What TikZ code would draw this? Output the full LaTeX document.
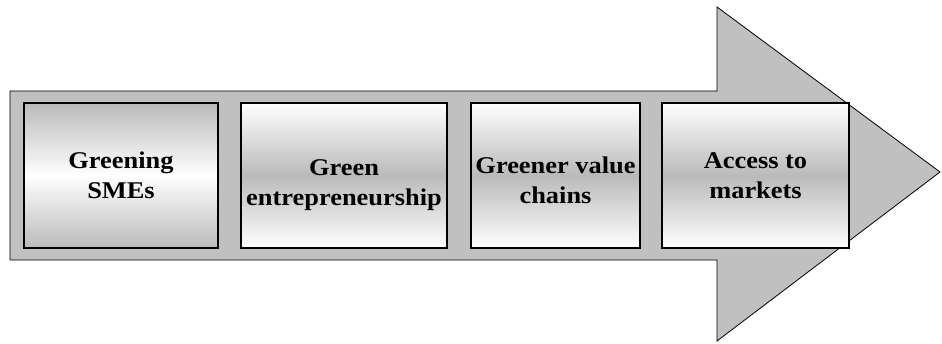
\documentclass[tikz,border=0pt]{standalone}
\usepackage{fontspec}
\setmainfont{Liberation Serif}[FakeStretch=1.1]
\usetikzlibrary{positioning}
\definecolor{arrowgray}{RGB}{192,192,192}
\definecolor{boxgray}{RGB}{186,186,186}

\begin{document}
\begin{tikzpicture}[%
    x = 1pt, y = 1pt,
    every node/.style = {inner sep=0pt, outer sep=0pt},
    box/.style = {draw=black, line width=1.4pt, minimum height=145pt},
    graymid/.style = {box, top color=white, bottom color=white, middle color=boxgray},
    whitemid/.style = {box, top color=boxgray, bottom color=boxgray, middle color=white},
    lbl/.style = {align=center, font=\bfseries\fontsize{24}{30}\selectfont}%
  ]
    \useasboundingbox (0,0) rectangle (942,343);
    \draw[fill=arrowgray, line width=0.8pt]
      (10,83) -- (10,252) -- (717,252) -- (717,336) -- (940,171) -- (717,2) -- (717,83) -- cycle;

    \node[whitemid, minimum width=194pt] (smes) at (121,167.5) {};
    \node[graymid, minimum width=206pt, right=23pt of smes] (entre) {};
    \node[graymid, minimum width=169pt, right=24pt of entre] (chains) {};
    \node[graymid, minimum width=187pt, right=22pt of chains] (markets) {};

    \node[lbl] (smestext) at (smes) {Greening\\SMEs};
    \node[lbl, yshift=-10pt] (entretext) at (entre) {Green\\entrepreneurship};
    \node[lbl, yshift=-5pt] (chainstext) at (chains) {Greener value\\chains};
    \node[lbl] (marketstext) at (markets) {Access to\\markets};
  \end{tikzpicture}
\end{document}
